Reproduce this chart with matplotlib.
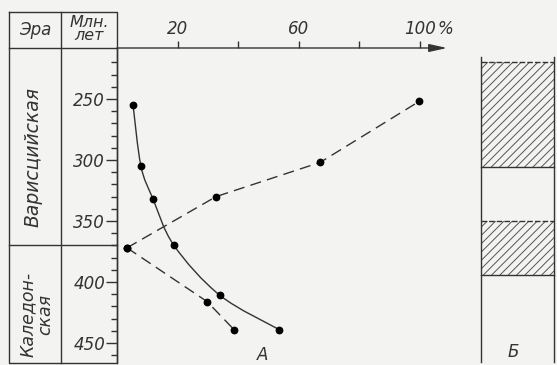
import numpy as np
import matplotlib
matplotlib.use('Agg')
import matplotlib.pyplot as plt
from matplotlib.path import Path
from matplotlib.patches import PathPatch, Rectangle
from matplotlib.ticker import FixedLocator
import matplotlib.transforms as mtrans

# ---- data ----
solid_pct = [5.3, 7.9, 11.9, 18.8, 34.0, 53.5]
solid_age = [255, 305, 332, 370, 411, 439]
upper_pct = [3.3, 32.7, 67.0, 99.7]
upper_age = [372, 330, 302, 252]
lower_pct = [3.3, 29.7, 38.6]
lower_age = [372, 416, 439]
x_ticks = [20, 40, 60, 80, 100]
x_ticklabels = ['20', '', '60', '', '100']
y_major = [250, 300, 350, 400, 450]
y_minor = [220, 230, 240, 260, 270, 280, 290, 310, 320, 330, 340, 360, 370,
           380, 390, 410, 420, 430, 440, 460]
eras = ['Варисцийская', 'Каледон-\nская']
era_boundary = 370
blocks_top = [220, 350]
blocks_bottom = [306, 394]

INK = '#333333'
BG = '#f3f3f2'
FONT = dict(family='DejaVu Sans', style='italic', color=INK)

fig = plt.figure(figsize=(5.57, 3.65), dpi=100, facecolor=BG)

# overlay in pixel coordinates for the table frame
ov = fig.add_axes([0, 0, 1, 1], zorder=0)
ov.set_xlim(0, 557)
ov.set_ylim(365, 0)
ov.axis('off')
ov.patch.set_alpha(0)

ax = fig.add_axes([117 / 557, 2 / 365, (447 - 117) / 557, (363 - 48) / 365], zorder=2)
ax.patch.set_alpha(0)
ax.set_xlim(0, 108.9)
ax.set_ylim(466.4, 208.2)

for s in ['right', 'bottom', 'top']:
    ax.spines[s].set_visible(False)
ax.spines['left'].set_color(INK)
ax.spines['left'].set_linewidth(1.0)

ax.xaxis.set_ticks_position('top')
ax.set_xticks(x_ticks)
ax.set_xticklabels(x_ticklabels, fontsize=12, fontstyle='italic', color=INK)
ax.tick_params(axis='x', direction='out', length=5, width=1, color=INK, pad=2)
ax.yaxis.set_major_locator(FixedLocator(y_major))
ax.yaxis.set_minor_locator(FixedLocator(y_minor))
ax.set_yticklabels([str(v) for v in y_major], fontsize=12, fontstyle='italic', color=INK)
ax.tick_params(axis='y', which='major', direction='out', length=8, width=1, color=INK, pad=0.5)
ax.tick_params(axis='y', which='minor', direction='out', length=4.5, width=1, color=INK)

# x axis with arrow
ax.annotate('', xy=(1.0, 1.0), xytext=(0.0, 1.0), xycoords='axes fraction',
            arrowprops=dict(arrowstyle='-|>,head_length=0.9,head_width=0.2',
                            mutation_scale=12, color=INK, lw=1.0,
                            shrinkA=0, shrinkB=0), annotation_clip=False)
ax.text(105.8, 193.0, '%', fontsize=12, ha='left', va='center',
        clip_on=False, **FONT)


def smooth_path(xs, ys):
    pts = np.column_stack([xs, ys]).astype(float)
    n = len(pts)
    verts = [pts[0]]
    codes = [Path.MOVETO]
    for i in range(n - 1):
        p0 = pts[i - 1] if i > 0 else pts[i]
        p1 = pts[i]
        p2 = pts[i + 1]
        p3 = pts[i + 2] if i + 2 < n else pts[i + 1]
        c1 = p1 + (p2 - p0) / 6
        c2 = p2 - (p3 - p1) / 6
        verts += [c1, c2, p2]
        codes += [Path.CURVE4] * 3
    return Path(verts, codes)


ax.add_patch(PathPatch(smooth_path(solid_pct, solid_age), fill=False,
                       edgecolor=INK, lw=1.0, transform=ax.transData))
ax.plot(solid_pct, solid_age, 'o', color='black', ms=4.6)
ax.plot(upper_pct, upper_age, color=INK, lw=1.0, dashes=(8, 4.5),
        marker='o', mfc='black', mec='black', ms=4.6)
ax.plot(lower_pct, lower_age, color=INK, lw=1.0, dashes=(8, 4.5),
        marker='o', mfc='black', mec='black', ms=4.6)
ax.text(47.9, 460, 'А', fontsize=12, ha='center', va='center', clip_on=False, **FONT)

# ---- table on the left ----
lw_t = 1.0
ov.plot([9, 117, 117, 9, 9], [12, 12, 363, 363, 12], color=INK, lw=lw_t)
ov.plot([61, 61], [12, 363], color=INK, lw=lw_t)
ov.plot([9, 117], [48, 48], color=INK, lw=lw_t)
bt = mtrans.blended_transform_factory(ov.transData, ax.transData)
ov.plot([9, 117], [era_boundary, era_boundary], color=INK, lw=lw_t,
        transform=bt, clip_on=False)
ov.text(35, 30, 'Эра', fontsize=12, ha='center', va='center', **FONT)
ov.text(89, 29, 'Млн.\nлет', fontsize=11.5, ha='center', va='center',
        linespacing=0.85, **FONT)
ov.text(33, 157, eras[0], fontsize=13.5, rotation=90, ha='center', va='center', **FONT)
ov.text(37, 314, eras[1], fontsize=12.5, rotation=90, ha='center', va='center',
        multialignment='center', linespacing=0.95, **FONT)

# ---- panel Б ----
ax2 = fig.add_axes([481 / 557, 2 / 365, 73 / 557, (363 - 48) / 365], zorder=2)
ax2.patch.set_alpha(0)
ax2.set_xlim(0, 1)
ax2.set_ylim(466.4, 208.2)
ax2.axis('off')
plt.rcParams['hatch.linewidth'] = 0.7
for x in (0, 1):
    ax2.plot([x, x], [215.6, 465.6], color=INK, lw=1.0, clip_on=False)
for t, b in zip(blocks_top, blocks_bottom):
    ax2.add_patch(Rectangle((0, t), 1, b - t, facecolor='none', edgecolor='#555555',
                            lw=0, hatch='////', clip_on=False))
    ax2.plot([0, 1], [t, t], color=INK, lw=1.0, dashes=(4, 1.5), clip_on=False)
    ax2.plot([0, 1], [b, b], color=INK, lw=1.0, clip_on=False)
ax2.text(0.44, 457, 'Б', fontsize=12, ha='center', va='center', clip_on=False, **FONT)

fig.savefig('out.png', dpi=100, facecolor=BG)
